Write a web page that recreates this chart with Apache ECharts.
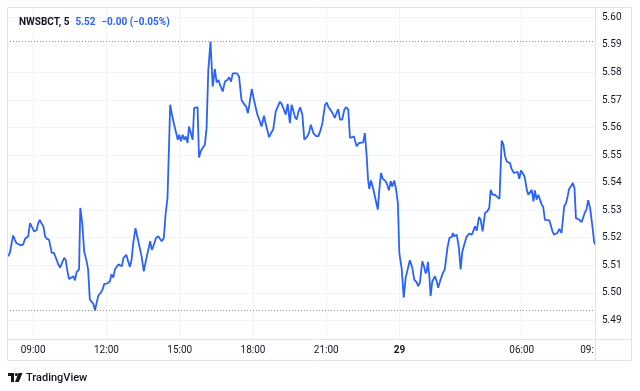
<!DOCTYPE html>
<html><head><meta charset="utf-8">
<script src="https://cdn.jsdelivr.net/npm/echarts@6/dist/echarts.min.js"></script>
<style>html,body{margin:0;padding:0;background:#fff}#c{width:640px;height:391px}</style>
</head><body><div id="c"></div>
<script>
// Position on the time scale in trading hours (24 = midnight of the 29th; one hour closed overnight)
const times = [
7.98,8.05,8.12,8.18,8.25,8.31,8.38,8.50,8.59,8.67,
8.73,8.80,8.87,8.94,9.04,9.14,9.21,9.27,9.34,9.42,
9.49,9.56,9.65,9.76,9.85,9.96,10.03,10.10,10.16,10.27,
10.34,10.39,10.47,10.55,10.65,10.71,10.78,10.88,10.93,11.01,
11.09,11.19,11.25,11.32,11.39,11.47,11.53,11.60,11.67,11.77,
11.85,11.91,12.01,12.07,12.14,12.21,12.28,12.35,12.49,12.63,
12.70,12.81,12.89,12.96,13.03,13.10,13.19,13.26,13.34,13.44,
13.53,13.61,13.68,13.79,13.86,13.92,14.03,14.12,14.19,14.26,
14.35,14.42,14.50,14.61,14.67,14.74,14.84,14.92,14.98,15.05,
15.12,15.19,15.25,15.32,15.38,15.44,15.53,15.59,15.67,15.73,
15.79,15.86,15.94,16.03,16.10,16.17,16.26,16.35,16.44,16.51,
16.59,16.65,16.76,16.85,16.95,17.02,17.10,17.17,17.26,17.35,
17.43,17.53,17.63,17.72,17.79,17.85,17.95,18.04,18.11,18.18,
18.28,18.35,18.45,18.53,18.60,18.66,18.74,18.83,18.93,19.01,
19.10,19.17,19.24,19.34,19.42,19.51,19.58,19.64,19.72,19.79,
19.86,19.93,20.02,20.10,20.20,20.29,20.37,20.47,20.57,20.67,
20.75,20.84,20.95,21.02,21.08,21.19,21.29,21.35,21.42,21.49,
21.56,21.65,21.74,21.81,21.90,21.97,22.04,22.13,22.24,22.34,
22.42,22.51,22.58,22.65,22.71,22.76,22.83,22.93,23.02,23.11,
23.17,23.24,23.31,23.40,23.47,23.56,23.64,23.70,23.78,23.86,
23.93,23.99,24.09,24.17,24.25,24.33,24.42,24.52,24.60,24.70,
24.76,24.83,24.93,25.00,25.07,25.11,25.16,25.22,25.27,25.34,
25.45,25.52,25.58,25.68,25.76,25.85,25.96,26.04,26.14,26.18,
26.24,26.34,26.43,26.50,26.57,26.65,26.74,26.85,26.96,27.02,
27.09,27.16,27.25,27.32,27.40,27.50,27.59,27.67,27.73,27.81,
27.90,28.00,28.09,28.18,28.25,28.32,28.39,28.45,28.52,28.59,
28.68,28.76,28.83,28.90,28.97,29.04,29.11,29.14,29.21,29.27,
29.34,29.41,29.48,29.54,29.61,29.68,29.75,29.82,29.88,29.95,
30.03,30.13,30.19,30.26,30.32,30.39,30.46,30.54,30.63,30.68,
30.74,30.81,30.88,30.94,31.01,31.09,31.16,31.22,31.29,31.36,
31.45,31.52,31.58,31.65,31.72,31.80,31.91,31.96,32.00
];
const prices = [
5.5132,5.5146,5.5150,5.5208,5.5193,5.5181,5.5175,5.5172,5.5175,5.5196,
5.5199,5.5205,5.5253,5.5250,5.5223,5.5227,5.5253,5.5265,5.5253,5.5241,
5.5205,5.5196,5.5193,5.5145,5.5145,5.5120,5.5103,5.5091,5.5096,5.5127,
5.5118,5.5085,5.5050,5.5050,5.5060,5.5045,5.5075,5.5085,5.5308,5.5253,
5.5150,5.5114,5.5085,5.4976,5.4982,5.4958,5.4935,5.4964,5.4990,5.5000,
5.5014,5.5032,5.5033,5.5030,5.5041,5.5067,5.5055,5.5085,5.5103,5.5096,
5.5127,5.5138,5.5114,5.5094,5.5120,5.5181,5.5235,5.5205,5.5208,5.5132,
5.5078,5.5114,5.5120,5.5187,5.5156,5.5169,5.5199,5.5205,5.5203,5.5187,
5.5199,5.5284,5.5344,5.5683,5.5653,5.5623,5.5586,5.5556,5.5574,5.5550,
5.5574,5.5556,5.5568,5.5544,5.5604,5.5606,5.5556,5.5671,5.5676,5.5674,
5.5491,5.5514,5.5526,5.5538,5.5598,5.5809,5.5912,5.5749,5.5812,5.5764,
5.5773,5.5755,5.5731,5.5767,5.5773,5.5783,5.5767,5.5797,5.5797,5.5797,
5.5785,5.5700,5.5686,5.5676,5.5653,5.5683,5.5740,5.5700,5.5698,5.5647,
5.5623,5.5604,5.5643,5.5610,5.5586,5.5565,5.5580,5.5594,5.5658,5.5658,
5.5694,5.5686,5.5671,5.5647,5.5686,5.5616,5.5683,5.5665,5.5638,5.5629,
5.5658,5.5674,5.5647,5.5556,5.5565,5.5580,5.5610,5.5580,5.5570,5.5568,
5.5586,5.5616,5.5683,5.5691,5.5676,5.5662,5.5647,5.5635,5.5653,5.5667,
5.5629,5.5629,5.5665,5.5674,5.5665,5.5562,5.5568,5.5568,5.5532,5.5544,
5.5550,5.5546,5.5580,5.5501,5.5411,5.5377,5.5408,5.5374,5.5338,5.5302,
5.5374,5.5435,5.5414,5.5408,5.5399,5.5372,5.5405,5.5386,5.5408,5.5374,
5.5326,5.5145,5.5085,5.4982,5.5055,5.5058,5.5118,5.5091,5.5048,5.5038,
5.5024,5.5036,5.5114,5.5096,5.5070,5.5078,5.5112,5.5060,5.4988,5.5041,
5.5060,5.5041,5.5018,5.5048,5.5069,5.5085,5.5163,5.5199,5.5203,5.5217,
5.5205,5.5211,5.5163,5.5085,5.5150,5.5145,5.5203,5.5215,5.5211,5.5211,
5.5241,5.5226,5.5275,5.5265,5.5223,5.5290,5.5296,5.5308,5.5374,5.5356,
5.5356,5.5348,5.5341,5.5553,5.5538,5.5495,5.5477,5.5483,5.5471,5.5449,
5.5435,5.5441,5.5439,5.5414,5.5444,5.5444,5.5423,5.5411,5.5374,5.5356,
5.5360,5.5374,5.5332,5.5372,5.5338,5.5356,5.5350,5.5320,5.5312,5.5265,
5.5259,5.5263,5.5259,5.5223,5.5211,5.5205,5.5217,5.5232,5.5217,5.5223,
5.5314,5.5324,5.5350,5.5377,5.5386,5.5399,5.5380,5.5271,5.5275,5.5265,
5.5256,5.5253,5.5290,5.5302,5.5336,5.5308,5.5229,5.5187,5.5175
];
const xTickPositions = [9, 12, 15, 18, 21, 24, 29, 32];
const xTickLabels = ['09:00', '12:00', '15:00', '18:00', '21:00', '29', '06:00', '09:'];
const yTickValues = [5.49, 5.50, 5.51, 5.52, 5.53, 5.54, 5.55, 5.56, 5.57, 5.58, 5.59, 5.60];
const symbolName = 'NWSBCT, 5';
const lastPrice = '5.52';
const changeText = '\u22120.00 (\u22120.05%)';

const FONT = 'Roboto, "Noto Sans", sans-serif';
const chart = echarts.init(document.getElementById('c'), null, {renderer: 'canvas'});
const frame = '#e0e3eb';
const gridCol = '#f0f3fa';

chart.setOption({
  animation: false,
  backgroundColor: '#ffffff',
  title: {
    left: 14, top: 12,
    text: '{a|' + symbolName + '}{b|' + lastPrice + '}{b|' + changeText + '}',
    textStyle: {
      rich: {
        a: {fontFamily: FONT, fontSize: 10, color: '#131722'},
        b: {fontFamily: FONT, fontSize: 10, color: '#2962ff', padding: [0, 0, 0, 6]}
      }
    }
  },
  grid: {left: 7, right: 45, top: 7, bottom: 52, containLabel: false},
  xAxis: {
    type: 'value', min: 7.93, max: 32.0,
    axisLine: {show: false},
    axisTick: {show: false, customValues: xTickPositions},
    splitLine: {show: true, lineStyle: {color: gridCol, width: 1}},
    axisLabel: {
      customValues: xTickPositions,
      margin: 6,
      color: '#131722', fontFamily: FONT, fontSize: 10,
      formatter: function (v) {
        const i = xTickPositions.indexOf(v);
        const s = i >= 0 ? xTickLabels[i] : '';
        if (v === 24) return '{d|' + s + '}';
        if (i === xTickPositions.length - 1) return '{r|' + s + '}';
        return s;
      },
      rich: {
        d: {fontFamily: FONT, fontSize: 10, fontWeight: 'bold', color: '#131722'},
        r: {fontFamily: FONT, fontSize: 10, color: '#131722', padding: [0, 16, 0, 0]}
      }
    }
  },
  yAxis: {
    type: 'value', position: 'right', min: 5.4832, max: 5.6038,
    axisLine: {show: false},
    axisTick: {show: false, customValues: yTickValues},
    splitLine: {show: true, lineStyle: {color: gridCol, width: 1}},
    axisLabel: {
      customValues: yTickValues,
      margin: 7,
      color: '#131722', fontFamily: FONT, fontSize: 10,
      formatter: function (v) { return v.toFixed(2); }
    }
  },
  series: [{
    type: 'line',
    data: times.map(function (t, i) { return [t, prices[i]]; }),
    showSymbol: false,
    symbol: 'none',
    lineStyle: {color: '#2962ff', width: 1.8},
    itemStyle: {color: '#2962ff'},
    markLine: {
      silent: true,
      precision: 4,
      symbol: ['none', 'none'],
      label: {show: false},
      lineStyle: {color: '#8c8f99', type: [1, 2], width: 1},
      data: [{type: 'max'}, {type: 'min'}]
    }
  }],
  graphic: [
    {type: 'rect', z: 100, silent: true, shape: {x: 7.5, y: 7.5, width: 624, height: 353},
     style: {fill: null, stroke: frame, lineWidth: 1}},
    {type: 'line', z: 100, silent: true, shape: {x1: 595.5, y1: 7.5, x2: 595.5, y2: 360.5},
     style: {stroke: frame, lineWidth: 1}},
    {type: 'line', z: 100, silent: true, shape: {x1: 7.5, y1: 339.5, x2: 631.5, y2: 339.5},
     style: {stroke: frame, lineWidth: 1}},
    {type: 'rect', silent: true, shape: {x: 8, y: 373, width: 6, height: 3}, style: {fill: '#131722'}},
    {type: 'rect', silent: true, shape: {x: 11, y: 373, width: 3, height: 9}, style: {fill: '#131722'}},
    {type: 'circle', silent: true, shape: {cx: 16.3, cy: 374.5, r: 1.5}, style: {fill: '#131722'}},
    {type: 'polygon', silent: true, shape: {points: [[18.5, 373], [22.5, 373], [18.8, 382], [15, 382]]}, style: {fill: '#131722'}},
    {type: 'text', silent: true, x: 26, y: 378,
     style: {text: 'TradingView', fill: '#131722', font: '500 11px ' + FONT, verticalAlign: 'middle'}}
  ]
});
</script></body></html>
